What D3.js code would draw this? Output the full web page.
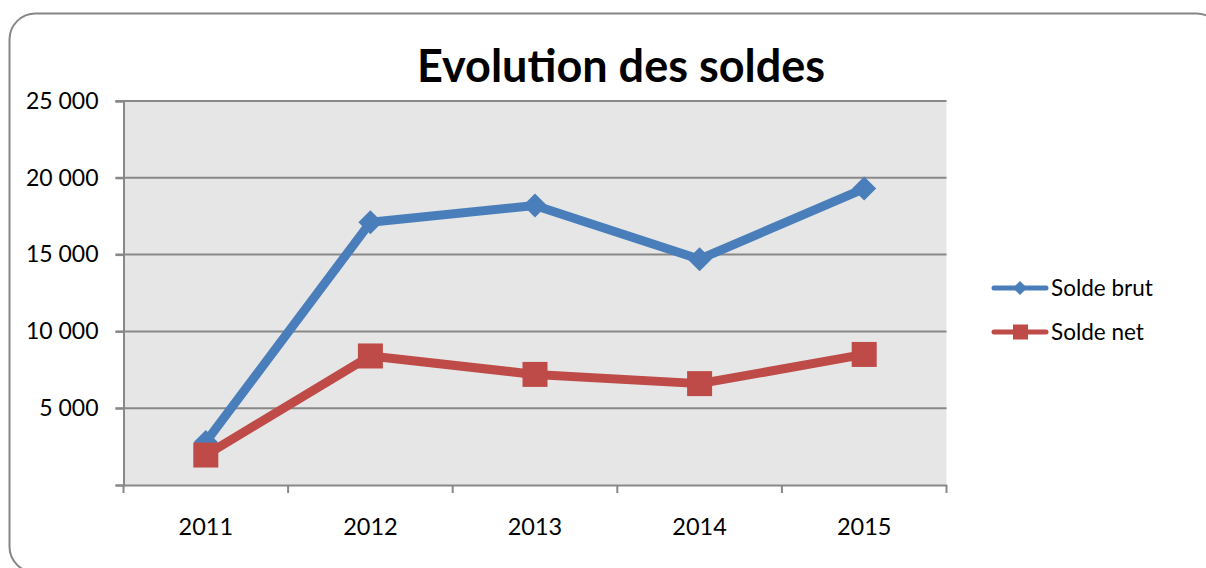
<!DOCTYPE html>
<html>
<head>
<meta charset="utf-8">
<script src="https://cdn.jsdelivr.net/npm/d3@7"></script>
<style>
  html, body { margin: 0; padding: 0; background: #fff; }
  svg { display: block; font-family: Lato, "Open Sans", sans-serif; }
</style>
</head>
<body>
<svg id="chart" width="1206" height="568"></svg>
<script>
const years = ["2011", "2012", "2013", "2014", "2015"];
const soldeBrut = [2800, 17100, 18200, 14700, 19300];
const soldeNet = [1950, 8400, 7200, 6600, 8500];
const yTicks = [5000, 10000, 15000, 20000, 25000];
const seriesNames = ["Solde brut", "Solde net"];
const title = "Evolution des soldes";

const svg = d3.select("#chart");
const width = +svg.attr("width");
const height = +svg.attr("height");

const plot = { left: 123.5, top: 101, right: 946.5, bottom: 485 };
const blue = "#4a7ebb";
const red = "#be4b48";
const gridColor = "#888888";

// outer frame (rounded, runs off the right/bottom edge)
svg.append("rect")
  .attr("x", 9.5).attr("y", 13.5)
  .attr("width", 1213).attr("height", 559)
  .attr("rx", 26)
  .attr("fill", "#fff")
  .attr("stroke", "#868686")
  .attr("stroke-width", 2);

const x = d3.scaleBand().domain(years).range([plot.left, plot.right]);
const y = d3.scaleLinear().domain([0, 25000]).range([plot.bottom, plot.top]);
const fmt = (v) => d3.format(",")(v).replace(/,/g, " ");

svg.append("rect")
  .attr("x", plot.left).attr("y", plot.top)
  .attr("width", plot.right - plot.left).attr("height", plot.bottom - plot.top)
  .attr("fill", "#e6e6e6");

// gridlines
svg.append("g")
  .selectAll("line")
  .data(yTicks)
  .join("line")
  .attr("x1", plot.left - 8).attr("x2", plot.right)
  .attr("y1", (d) => y(d)).attr("y2", (d) => y(d))
  .attr("stroke", gridColor).attr("stroke-width", 2);

// y axis
const yAxis = svg.append("g")
  .attr("transform", `translate(${plot.left},0)`)
  .call(d3.axisLeft(y).tickValues([0].concat(yTicks)).tickSize(8).tickPadding(17).tickFormat((d) => d === 0 ? "" : fmt(d)));
yAxis.select(".domain").attr("stroke", gridColor).attr("stroke-width", 2);
yAxis.selectAll(".tick line").attr("stroke", gridColor).attr("stroke-width", 2);
yAxis.selectAll(".tick text").attr("font-size", 23).attr("fill", "#000").attr("font-family", "Lato, sans-serif");

// x axis
const xAxis = svg.append("g")
  .attr("transform", `translate(0,${plot.bottom})`)
  .call(d3.axisBottom(x).tickSize(0).tickPadding(33));
xAxis.select(".domain").attr("stroke", gridColor).attr("stroke-width", 2);
xAxis.selectAll(".tick text").attr("font-size", 23.5).attr("fill", "#000").attr("font-family", "Lato, sans-serif");
const bounds = years.map((d) => x(d)).concat([plot.right]);
svg.append("g")
  .selectAll("line")
  .data(bounds)
  .join("line")
  .attr("x1", (d) => d).attr("x2", (d) => d)
  .attr("y1", plot.bottom).attr("y2", plot.bottom + 8)
  .attr("stroke", gridColor).attr("stroke-width", 2);

const cx = (i) => x(years[i]) + x.bandwidth() / 2;
const line = d3.line().x((d, i) => cx(i)).y((d) => y(d));

svg.append("path")
  .datum(soldeBrut)
  .attr("d", line)
  .attr("fill", "none")
  .attr("stroke", blue)
  .attr("stroke-width", 9)
  .attr("stroke-linejoin", "round");

// diamond markers: squares turned 45 degrees
svg.append("g")
  .selectAll("rect")
  .data(soldeBrut)
  .join("rect")
  .attr("x", -8.5).attr("y", -8.5)
  .attr("width", 17).attr("height", 17)
  .attr("transform", (d, i) => `translate(${cx(i)},${y(d)}) rotate(45)`)
  .attr("fill", blue);

svg.append("path")
  .datum(soldeNet)
  .attr("d", line)
  .attr("fill", "none")
  .attr("stroke", red)
  .attr("stroke-width", 9)
  .attr("stroke-linejoin", "round");

svg.append("g")
  .selectAll("rect")
  .data(soldeNet)
  .join("rect")
  .attr("x", (d, i) => cx(i) - 12.5)
  .attr("y", (d) => y(d) - 12.5)
  .attr("width", 25).attr("height", 25)
  .attr("fill", red);

// title
svg.append("text")
  .attr("x", 621).attr("y", 82)
  .attr("text-anchor", "middle")
  .attr("font-size", 45)
  .attr("font-weight", "bold")
  .attr("fill", "#000")
  .text(title);

// legend
const legend = svg.append("g");
const legendRows = [
  { name: seriesNames[0], color: blue, shape: "diamond", y: 288 },
  { name: seriesNames[1], color: red, shape: "square", y: 332 },
];
legendRows.forEach((r) => {
  legend.append("line")
    .attr("x1", 994).attr("x2", 1046)
    .attr("y1", r.y).attr("y2", r.y)
    .attr("stroke", r.color).attr("stroke-width", 5)
    .attr("stroke-linecap", "round");
  if (r.shape === "diamond") {
    legend.append("rect")
      .attr("x", -5).attr("y", -5)
      .attr("width", 10).attr("height", 10)
      .attr("transform", `translate(1020,${r.y}) rotate(45)`)
      .attr("fill", r.color);
  } else {
    legend.append("rect")
      .attr("x", 1013).attr("y", r.y - 7.5)
      .attr("width", 15).attr("height", 15)
      .attr("fill", r.color);
  }
  legend.append("text")
    .attr("x", 1051).attr("y", r.y)
    .attr("dy", "0.35em")
    .attr("font-size", 22.5)
    .attr("fill", "#000")
    .text(r.name);
});
</script>
</body>
</html>
